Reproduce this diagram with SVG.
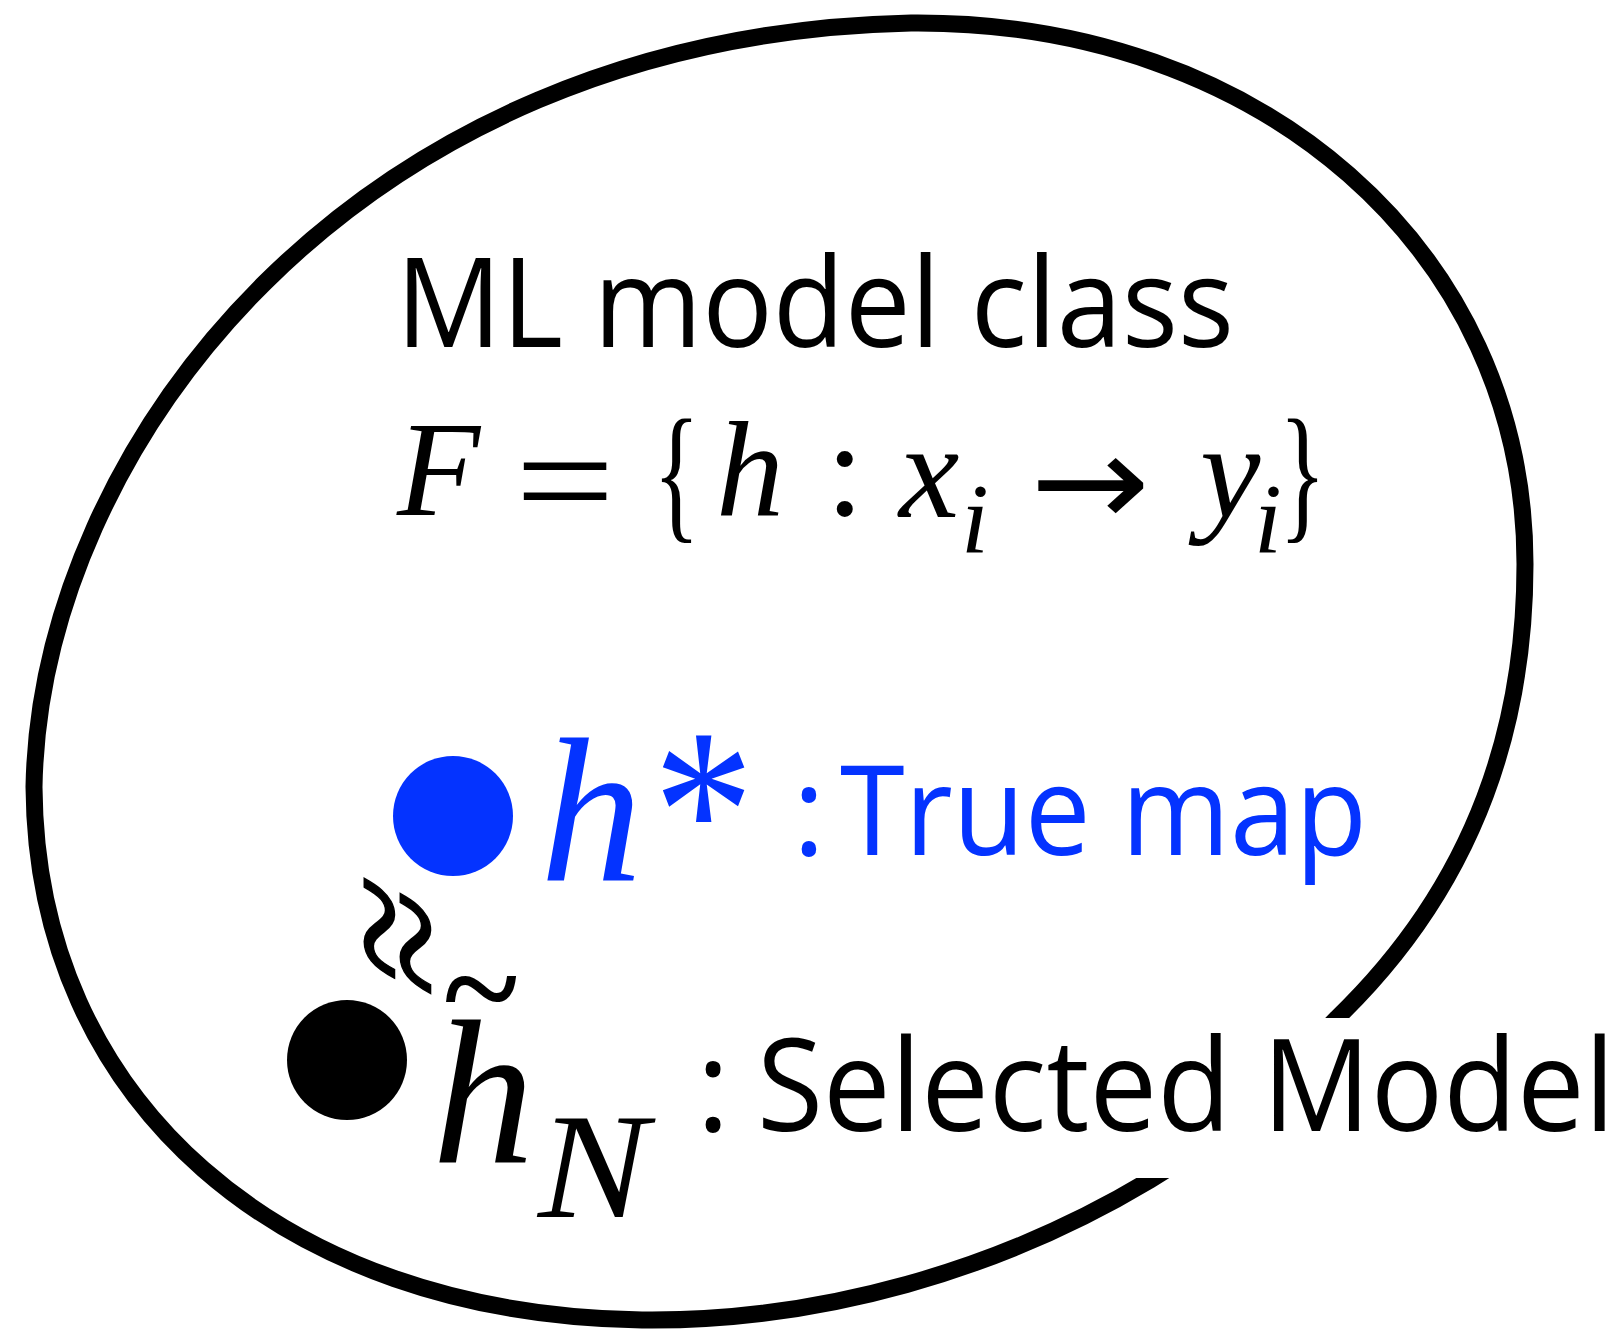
<svg xmlns="http://www.w3.org/2000/svg" width="1624" height="1329" viewBox="0 0 1624 1329">
<style>
.sans{font-family:"Open Sans","Noto Sans","Liberation Sans",sans-serif;}
.ser{font-family:"Liberation Serif","Times New Roman",Times,serif;}
.arrow{font-family:"DejaVu Sans",sans-serif;}
.it{font-style:italic;}
.blue{fill:#0433ff;}
.blk{fill:#000;}
</style>
<defs>
<mask id="endcuts" maskUnits="userSpaceOnUse" x="0" y="0" width="1624" height="1329">
<rect x="0" y="0" width="1624" height="1329" fill="#fff"/>
<rect x="1200" y="1018" width="300" height="150" fill="#000"/>
<rect x="1100" y="1080" width="200" height="98" fill="#000"/>
</mask>
</defs>
<rect width="1624" height="1329" fill="#fff"/>
<g id="connectors">
<path id="class-boundary" mask="url(#endcuts)" d="M 1190 1155 L 1150 1180 C 1000 1270, 820 1322, 642 1320 C 280 1315, 36 1100, 34 787 C 40 450, 350 35, 911 23 C 1260 20, 1525 250, 1525 564 C 1525 720, 1480 880, 1337 1018 L 1307 1049" fill="none" stroke="#000" stroke-width="17"/>
</g>
<g id="title">
<text class="sans" x="396" y="347" font-size="125" textLength="838" lengthAdjust="spacingAndGlyphs">ML model class</text>
</g>
<g id="formula" font-size="136">
<text class="ser it" x="397" y="515">F</text>
<text class="ser" x="515" y="531" font-size="150" textLength="100" lengthAdjust="spacingAndGlyphs">=</text>
<text class="ser" x="653" y="523" font-size="150" textLength="47" lengthAdjust="spacingAndGlyphs">{</text>
<text class="ser it" x="716" y="515">h</text>
<text class="ser" x="826" y="515">:</text>
<text class="ser it" x="899" y="517">x</text>
<text class="ser it" x="961" y="552" font-size="100">i</text>
<text class="arrow" x="1030" y="526" font-size="129" textLength="120" lengthAdjust="spacingAndGlyphs">→</text>
<text class="ser it" x="1200" y="517">y</text>
<text class="ser it" x="1254" y="552" font-size="100">i</text>
<text class="ser" x="1279" y="523" font-size="150" textLength="47" lengthAdjust="spacingAndGlyphs">}</text>
</g>
<g id="true-map">
<circle cx="453" cy="816" r="60" class="blue"/>
<text class="ser it blue" x="540" y="880" font-size="205">h</text>
<text class="ser blue" x="653" y="890" font-size="235" textLength="101" lengthAdjust="spacingAndGlyphs">*</text>
<text class="sans blue" x="809" y="855" font-size="125" text-anchor="middle">:</text>
<text class="sans blue" x="840" y="855" font-size="125" textLength="527" lengthAdjust="spacingAndGlyphs">True map</text>
</g>
<g id="approx">
<text class="ser" x="0" y="0" font-size="180" text-anchor="middle" stroke="#000" stroke-width="1.5" transform="translate(421,945) rotate(-90) skewX(-23)" dy="0.2em">≈</text>
</g>
<g id="selected-model">
<circle cx="347" cy="1060" r="60" class="blk"/>
<text class="ser" x="481" y="1035" font-size="140" text-anchor="middle" stroke="#000" stroke-width="2">~</text>
<text class="ser it" x="432" y="1162" font-size="205">h</text>
<text class="ser it" x="538" y="1217" font-size="150" textLength="110" lengthAdjust="spacingAndGlyphs">N</text>
<text class="sans" x="713" y="1131" font-size="128" text-anchor="middle">:</text>
<text class="sans" x="757" y="1131" font-size="128" textLength="858" lengthAdjust="spacingAndGlyphs">Selected Model</text>
</g>
</svg>
